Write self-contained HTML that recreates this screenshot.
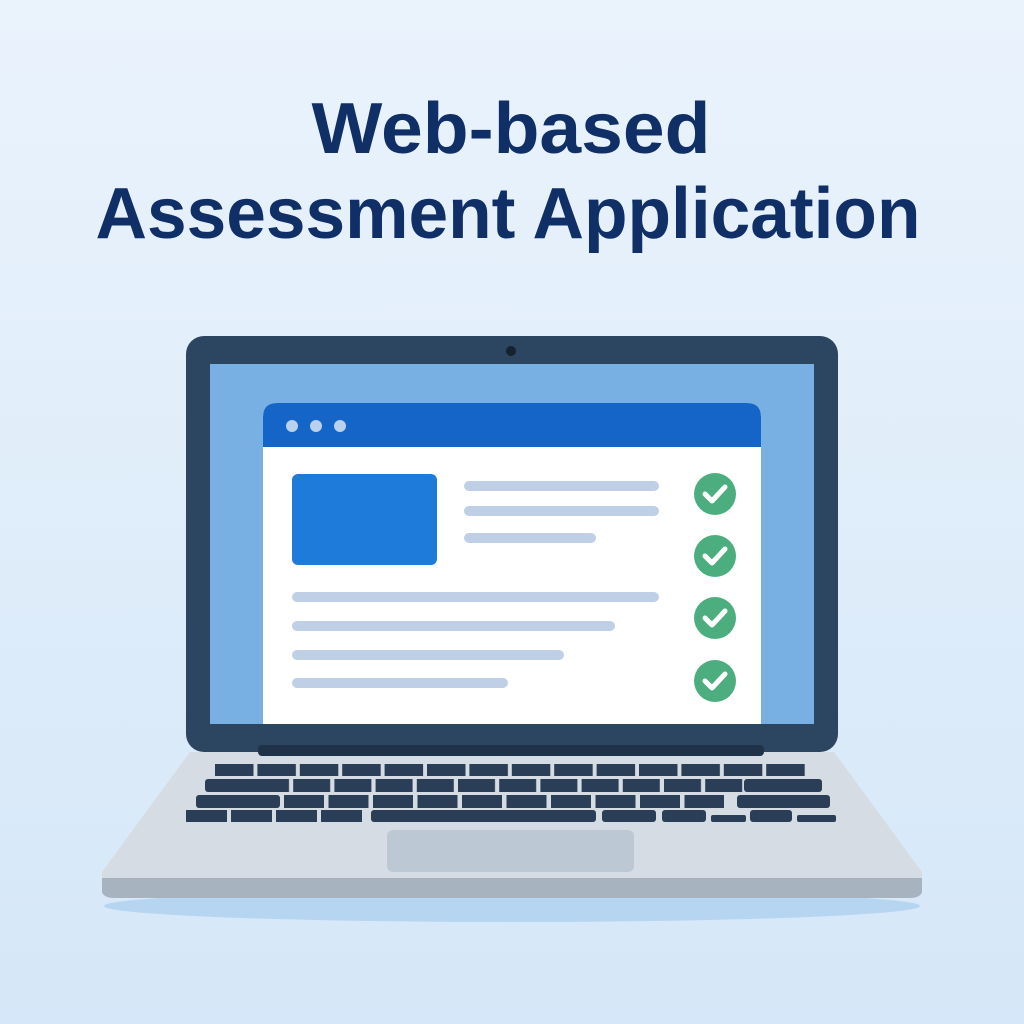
<!DOCTYPE html>
<html><head><meta charset="utf-8"><style>html,body{margin:0;padding:0;width:1024px;height:1024px;overflow:hidden}</style></head>
<body>
<svg width="1024" height="1024" viewBox="0 0 1024 1024" xmlns="http://www.w3.org/2000/svg">
<defs>
<linearGradient id="bg" x1="0" y1="0" x2="0" y2="1"><stop offset="0" stop-color="#eaf3fc"/><stop offset="1" stop-color="#d5e7f8"/></linearGradient>
<pattern id="k1" x="215" y="0" width="42.4" height="1000" patternUnits="userSpaceOnUse"><rect x="0" y="0" width="38.5" height="1000" rx="3" fill="#2a3f57"/></pattern>
<pattern id="k2" x="252" y="0" width="41.2" height="1000" patternUnits="userSpaceOnUse"><rect x="0" y="0" width="37" height="1000" rx="3" fill="#2a3f57"/></pattern>
<pattern id="k3" x="284" y="0" width="44.5" height="1000" patternUnits="userSpaceOnUse"><rect x="0" y="0" width="40" height="1000" rx="3" fill="#2a3f57"/></pattern>
<pattern id="k4" x="186" y="0" width="45" height="1000" patternUnits="userSpaceOnUse"><rect x="0" y="0" width="41" height="1000" rx="3" fill="#2a3f57"/></pattern>
</defs>
<rect width="1024" height="1024" fill="url(#bg)"/>
<g font-family="Liberation Sans, sans-serif" font-weight="bold" fill="#0f2f66" text-anchor="middle">
<text x="511" y="153" font-size="72" textLength="399" lengthAdjust="spacingAndGlyphs">Web-based</text>
<text x="508" y="238" font-size="72" textLength="825" lengthAdjust="spacingAndGlyphs">Assessment Application</text>
</g>
<ellipse cx="512" cy="906" rx="408" ry="16" fill="#b6d5f1"/>
<path d="M190 752 L834 752 L922 872 Q924 882 914 884 L110 884 Q100 882 102 872 Z" fill="#d6dce3"/>
<path d="M102 878 L922 878 L922 892 Q920 898 910 898 L114 898 Q104 898 102 892 Z" fill="#a7b4c0"/>
<rect x="186" y="336" width="652" height="416" rx="18" fill="#2c4560"/>
<rect x="258" y="745" width="506" height="11" rx="4" fill="#1f3247"/>
<rect x="210" y="364" width="604" height="360" fill="#78b0e4"/>
<circle cx="511" cy="351" r="5" fill="#15222f"/>
<path d="M263 724 L263 417 Q263 403 277 403 L747 403 Q761 403 761 417 L761 724 Z" fill="#ffffff"/>
<path d="M263 447 L263 417 Q263 403 277 403 L747 403 Q761 403 761 417 L761 447 Z" fill="#1565c8"/>
<g fill="#b9d0ee"><circle cx="292" cy="426" r="6"/><circle cx="316" cy="426" r="6"/><circle cx="340" cy="426" r="6"/></g>
<rect x="292" y="474" width="145" height="91" rx="6" fill="#1f7bd9"/>
<g stroke="#bfcfe6" stroke-width="10" stroke-linecap="round">
<line x1="469" y1="486" x2="654" y2="486"/><line x1="469" y1="511" x2="654" y2="511"/><line x1="469" y1="538" x2="591" y2="538"/>
<line x1="297" y1="597" x2="654" y2="597"/><line x1="297" y1="626" x2="610" y2="626"/><line x1="297" y1="655" x2="559" y2="655"/><line x1="297" y1="683" x2="503" y2="683"/>
</g>
<g>
<circle cx="715" cy="494" r="21" fill="#4cae7f"/><circle cx="715" cy="556" r="21" fill="#4cae7f"/><circle cx="715" cy="618" r="21" fill="#4cae7f"/><circle cx="715" cy="681" r="21" fill="#4cae7f"/>
<g fill="none" stroke="#fff" stroke-width="5" stroke-linecap="round" stroke-linejoin="round">
<path d="M705 494 l7 7 l13 -14"/><path d="M705 556 l7 7 l13 -14"/><path d="M705 618 l7 7 l13 -14"/><path d="M705 681 l7 7 l13 -14"/>
</g></g>
<rect x="215" y="764" width="593" height="12" fill="url(#k1)"/>
<rect x="205" y="779" width="64" height="13" rx="3" fill="#2a3f57"/>
<rect x="252" y="779" width="500" height="13" fill="url(#k2)"/>
<rect x="744" y="779" width="78" height="13" rx="3" fill="#2a3f57"/>
<rect x="196" y="795" width="84" height="13" rx="3" fill="#2a3f57"/>
<rect x="284" y="795" width="440" height="13" fill="url(#k3)"/>
<rect x="737" y="795" width="93" height="13" rx="3" fill="#2a3f57"/>
<rect x="186" y="810" width="180" height="12" fill="url(#k4)"/>
<rect x="371" y="810" width="225" height="12" rx="3" fill="#2a3f57"/>
<rect x="602" y="810" width="54" height="12" rx="3" fill="#2a3f57"/>
<rect x="662" y="810" width="44" height="12" rx="3" fill="#2a3f57"/>
<rect x="711" y="815" width="35" height="7" rx="2" fill="#2a3f57"/>
<rect x="750" y="810" width="42" height="12" rx="3" fill="#2a3f57"/>
<rect x="797" y="815" width="39" height="7" rx="2" fill="#2a3f57"/>
<rect x="387" y="830" width="247" height="42" rx="6" fill="#bcc8d3"/>
</svg>
</body></html>
